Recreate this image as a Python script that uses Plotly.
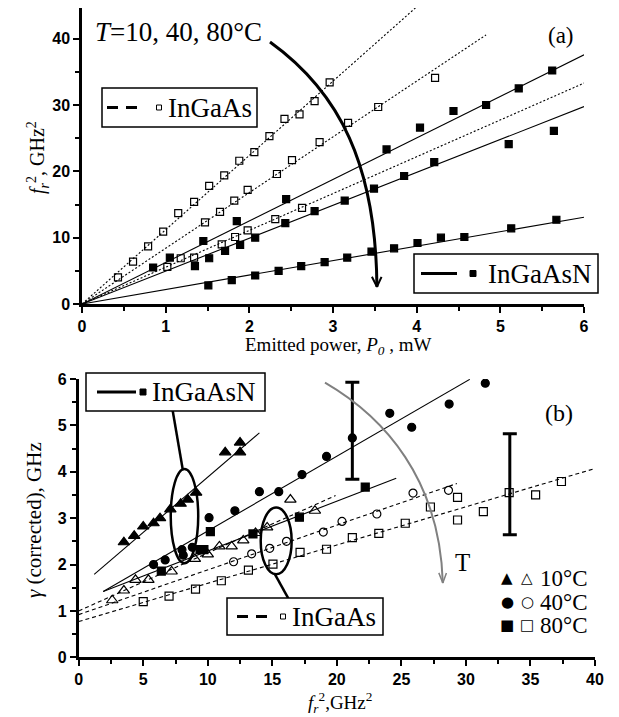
import numpy as np
import plotly.graph_objects as go

# ---------------- Panel (a): f_r^2 vs emitted power ----------------
a_ingaas_10_x = [0.43, 0.61, 0.79, 0.97, 1.15, 1.34, 1.52, 1.70, 1.88, 2.06, 2.24, 2.42, 2.60, 2.78, 2.96]
a_ingaas_10_y = [4.0, 6.4, 8.7, 10.9, 13.7, 15.4, 17.8, 19.4, 21.6, 22.9, 25.3, 27.9, 28.6, 30.6, 33.4]
a_ingaas_40_x = [1.47, 1.65, 1.82, 1.98, 2.33, 2.51, 2.84, 3.18, 3.54, 4.22]
a_ingaas_40_y = [12.3, 13.9, 15.6, 17.2, 19.6, 21.7, 24.4, 27.3, 29.7, 34.1]
a_ingaas_80_x = [1.02, 1.18, 1.34, 1.67, 1.83, 1.98, 2.31, 2.63]
a_ingaas_80_y = [5.6, 6.9, 7.0, 9.0, 10.1, 11.1, 12.8, 14.5]
a_ingaasn_10_x = [0.85, 1.05, 1.45, 1.85, 2.44, 3.64, 4.04, 4.44, 4.83, 5.22, 5.62]
a_ingaasn_10_y = [5.5, 7.0, 9.5, 12.5, 15.8, 23.3, 26.6, 29.1, 30.0, 32.5, 35.2]
a_ingaasn_40_x = [1.35, 1.52, 1.71, 1.89, 2.07, 2.43, 2.78, 3.14, 3.49, 3.85, 4.21, 5.10, 5.64]
a_ingaasn_40_y = [5.7, 6.9, 8.0, 8.9, 10.0, 12.2, 14.0, 15.6, 17.4, 19.3, 21.4, 24.1, 26.1]
a_ingaasn_80_x = [1.51, 1.79, 2.07, 2.35, 2.62, 2.90, 3.17, 3.46, 3.73, 4.01, 4.29, 4.57, 5.13, 5.67]
a_ingaasn_80_y = [2.8, 3.6, 4.3, 5.0, 5.7, 6.3, 7.0, 7.9, 8.4, 9.2, 10.0, 10.1, 11.4, 12.7]

# linear fits through origin (slope, x end)
a_fit_ingaas_slope = [11.2, 8.4, 5.55]
a_fit_ingaas_xend = [4.0, 4.83, 6.0]
a_fit_ingaasn_slope = [6.26, 4.96, 2.18]
a_fit_ingaasn_xend = [6.0, 6.0, 6.0]

# temperature arrow (a): cubic Bezier control points (data units)
a_arrow_x = [2.247, 3.084, 3.513, 3.525]
a_arrow_y = [39.5, 31.9, 20.9, 2.6]

# ---------------- Panel (b): gamma vs f_r^2 ----------------
b_n_10_x = [3.5, 4.3, 5.0, 5.8, 6.3, 7.1, 7.9, 8.45, 9.1, 11.35, 12.5, 12.5]
b_n_10_y = [2.48, 2.62, 2.82, 2.89, 3.0, 3.19, 3.31, 3.4, 3.55, 4.42, 4.63, 4.42]
b_n_40_x = [5.8, 6.7, 8.0, 8.1, 8.8, 10.1, 12.1, 14.0, 15.5, 17.3, 19.2, 21.2, 24.1, 25.8, 28.7, 31.5]
b_n_40_y = [2.0, 2.1, 2.32, 2.2, 2.37, 3.01, 3.16, 3.57, 3.57, 3.94, 4.33, 4.73, 5.26, 4.96, 5.46, 5.91]
b_n_80_x = [6.4, 9.4, 9.7, 10.2, 13.5, 17.1, 22.2]
b_n_80_y = [1.86, 2.32, 2.32, 2.71, 2.66, 3.02, 3.67]
b_ga_10_x = [2.6, 3.5, 4.4, 5.4, 7.2, 9.0, 10.0, 10.9, 11.85, 12.75, 13.7, 14.6, 16.4, 18.3]
b_ga_10_y = [1.23, 1.44, 1.67, 1.67, 1.85, 2.12, 2.22, 2.39, 2.39, 2.52, 2.68, 2.8, 3.4, 3.16]
b_ga_40_x = [12.0, 13.4, 14.8, 16.1, 18.95, 20.4, 23.1, 25.9, 28.65]
b_ga_40_y = [2.06, 2.23, 2.35, 2.5, 2.7, 2.93, 3.09, 3.54, 3.6]
b_ga_80_x = [5.0, 7.0, 9.05, 11.05, 13.15, 15.05, 17.15, 19.2, 21.2, 23.25, 25.3, 27.25, 29.35, 29.35, 31.35, 33.35, 35.4, 37.4]
b_ga_80_y = [1.2, 1.32, 1.47, 1.65, 1.88, 2.01, 2.26, 2.33, 2.58, 2.67, 2.89, 3.24, 3.45, 2.96, 3.14, 3.55, 3.5, 3.79]

# linear fits (intercept, slope, x start, x end)
b_fit_n_int = [1.50, 1.114, 1.216]
b_fit_n_slope = [0.2385, 0.161, 0.1075]
b_fit_n_x0 = [1.2, 1.9, 1.9]
b_fit_n_x1 = [14.0, 30.3, 24.6]
b_fit_ga_int = [1.0, 0.92, 0.77]
b_fit_ga_slope = [0.125, 0.0965, 0.0825]
b_fit_ga_x0 = [0.0, 0.0, 0.0]
b_fit_ga_x1 = [19.9, 29.3, 39.9]

# error bars
b_err_x = [21.2, 33.4]
b_err_lo = [3.84, 2.64]
b_err_hi = [5.93, 4.82]

# temperature arrow (b): cubic Bezier control points (data units)
b_arrow_x = [19.08, 23.72, 27.98, 28.21]
b_arrow_y = [5.92, 5.17, 3.83, 1.60]

W, H = 619, 717
OFF = 8  # page body margin of the html page


def PX(x):
    return (x - OFF) / W


def PY(y):
    return 1 - (y - OFF) / H


fig = go.Figure()


def pts(x, y, sym, size, xa, ya, lw=1.2):
    fig.add_trace(go.Scatter(x=x, y=y, mode="markers", xaxis=xa, yaxis=ya,
                             marker=dict(symbol=sym, size=size, color="black",
                                         line=dict(width=lw, color="black")),
                             showlegend=False, hoverinfo="skip"))


def line(x, y, xa, ya, dash="solid", width=1.1, color="black"):
    fig.add_trace(go.Scatter(x=x, y=y, mode="lines", xaxis=xa, yaxis=ya,
                             line=dict(color=color, width=width, dash=dash),
                             showlegend=False, hoverinfo="skip"))


def bezier(xs, ys, xref, yref, width, color):
    path = "M {},{} C {},{} {},{} {},{}".format(xs[0], ys[0], xs[1], ys[1], xs[2], ys[2], xs[3], ys[3])
    fig.add_shape(type="path", xref=xref, yref=yref, path=path,
                  line=dict(color=color, width=width))


# ---- panel (a) traces ----
for s, xe in zip(a_fit_ingaas_slope, a_fit_ingaas_xend):
    xx = np.array([0.0, xe])
    line(xx, s * xx, "x", "y", dash="2px,2px")
for s, xe in zip(a_fit_ingaasn_slope, a_fit_ingaasn_xend):
    xx = np.array([0.0, xe])
    line(xx, s * xx, "x", "y")

for x, y in [(a_ingaas_10_x, a_ingaas_10_y), (a_ingaas_40_x, a_ingaas_40_y), (a_ingaas_80_x, a_ingaas_80_y)]:
    pts(x, y, "square-open", 7, "x", "y")
for x, y in [(a_ingaasn_10_x, a_ingaasn_10_y), (a_ingaasn_40_x, a_ingaasn_40_y), (a_ingaasn_80_x, a_ingaasn_80_y)]:
    pts(x, y, "square", 7, "x", "y")

bezier(a_arrow_x, a_arrow_y, "x", "y", 3, "black")
tx, ty = a_arrow_x[-1], a_arrow_y[-1]
line([tx - 0.06, tx, tx + 0.055], [ty + 1.5, ty, ty + 1.5], "x", "y", width=2)

# ---- panel (b) traces ----
for b0, s, x0, x1 in zip(b_fit_n_int, b_fit_n_slope, b_fit_n_x0, b_fit_n_x1):
    xx = np.array([x0, x1])
    line(xx, b0 + s * xx, "x2", "y2")
for b0, s, x0, x1 in zip(b_fit_ga_int, b_fit_ga_slope, b_fit_ga_x0, b_fit_ga_x1):
    xx = np.array([x0, x1])
    line(xx, b0 + s * xx, "x2", "y2", dash="4px,3px")

pts(b_n_10_x, b_n_10_y, "triangle-up", 10, "x2", "y2")
pts(b_n_40_x, b_n_40_y, "circle", 8, "x2", "y2")
pts(b_n_80_x, b_n_80_y, "square", 8, "x2", "y2")
pts(b_ga_10_x, b_ga_10_y, "triangle-up-open", 10, "x2", "y2")
pts(b_ga_40_x, b_ga_40_y, "circle-open", 8, "x2", "y2")
pts(b_ga_80_x, b_ga_80_y, "square-open", 8, "x2", "y2")

err_c = [(lo + hi) / 2 for lo, hi in zip(b_err_lo, b_err_hi)]
err_h = [(hi - lo) / 2 for lo, hi in zip(b_err_lo, b_err_hi)]
fig.add_trace(go.Scatter(x=b_err_x, y=err_c, mode="markers", xaxis="x2", yaxis="y2",
                         marker=dict(size=1, color="rgba(0,0,0,0)"),
                         error_y=dict(type="data", array=err_h, visible=True, thickness=3,
                                      width=7, color="black"),
                         showlegend=False, hoverinfo="skip"))

bezier(b_arrow_x, b_arrow_y, "x2", "y2", 2, "#808080")
tx, ty = b_arrow_x[-1], b_arrow_y[-1]
line([tx - 0.31, tx, tx + 0.28], [ty + 0.22, ty, ty + 0.22], "x2", "y2", width=1.5, color="#808080")

# ellipses (b)
fig.add_shape(type="circle", xref="x2", yref="y2", x0=7.13, x1=9.26, y0=2.03, y1=4.06,
              line=dict(color="black", width=2.5))
fig.add_shape(type="circle", xref="x2", yref="y2", x0=14.1, x1=16.5, y0=1.79, y1=3.23,
              line=dict(color="black", width=2.5))


# ---- paper-space helpers ----
def pline(x0, y0, x1, y1, width=2.5, dash="solid", color="black"):
    fig.add_shape(type="line", xref="paper", yref="paper", x0=PX(x0), y0=PY(y0), x1=PX(x1), y1=PY(y1),
                  line=dict(color=color, width=width, dash=dash))


def prect(x0, y0, x1, y1, fill="white", lw=1.5):
    fig.add_shape(type="rect", xref="paper", yref="paper", x0=PX(x0), x1=PX(x1), y0=PY(y1), y1=PY(y0),
                  line=dict(color="black", width=lw), fillcolor=fill)


def txt(x, y, text, size, anchor="left", family="Liberation Serif", angle=0):
    fig.add_annotation(xref="paper", yref="paper", x=PX(x), y=PY(y), text=text, showarrow=False,
                       xanchor=anchor, yanchor="middle", textangle=angle,
                       font=dict(family=family, size=size, color="black"))


# connectors of ellipses
pline(182.7, 469.3, 172.7, 410.7)
pline(275, 574.3, 288.3, 598.3)

# legend box (a) InGaAs
prect(102, 88, 257, 127)
pline(107, 107.5, 138, 107.5, width=3, dash="11px,8px")
prect(156.5, 105, 161.5, 110, lw=1)
txt(166, 107.5, "InGaAs", 27)

# legend box (a) InGaAsN
prect(414, 254, 598, 293)
pline(421, 273.5, 457, 273.5, width=3)
prect(470, 270.5, 476, 276.5, fill="black", lw=1)
txt(486, 273.5, "InGaAsN", 27)

# legend box (b) InGaAsN
prect(86, 373, 265, 411)
pline(97, 392, 136, 392, width=3)
prect(140, 389, 146, 395, fill="black", lw=1)
txt(150, 392, "InGaAsN", 27)

# legend box (b) InGaAs
prect(227, 598, 383, 635)
pline(237, 616.5, 268, 616.5, width=3, dash="11px,8px")
prect(280.5, 614, 285.5, 619, lw=1)
txt(290, 616.5, "InGaAs", 27)

# temperature legend (b)
for yy, s_full, s_open, lab in [(578, "\u25B2", "\u25B3", "10°C"), (602, "\u25CF", "\u25CB", "40°C"),
                                (625, "\u25A0", "\u25A1", "80°C")]:
    txt(507, yy, s_full, 15, anchor="center", family="DejaVu Sans")
    txt(527, yy, s_open, 15, anchor="center", family="DejaVu Sans")
    txt(538, yy, lab, 23)

txt(93, 32, "<i>T</i>=10, 40, 80°C", 27)
txt(561, 35, "(a)", 23, anchor="center")
txt(559, 413, "(b)", 24, anchor="center")
txt(462, 562, "T", 25, anchor="center")

# axis titles
txt(338, 346, "Emitted power, <i>P<sub>0</sub></i> , mW", 19, anchor="center")
txt(38, 158, "<i>f<sub>r</sub></i><sup>2</sup>, GHz<sup>2</sup>", 20, anchor="center", angle=-90)
txt(340, 702, "<i>f<sub>r</sub></i><sup>2</sup>,GHz<sup>2</sup>", 19, anchor="center")
txt(34, 520, "<i>γ</i> (corrected), GHz", 21, anchor="center", angle=-90)

ax_common = dict(showline=True, linecolor="black", linewidth=2.5, ticks="outside", ticklen=6,
                 tickwidth=2, tickcolor="black", showgrid=False, zeroline=False, automargin=False,
                 tickfont=dict(family="Liberation Sans", size=16, color="black", weight="bold"))

# panel (a) y axis: visible page starts at y = 8 px, so top of axis there
a_y_top = (304 - OFF) / 6.633

fig.update_layout(
    width=W, height=H, margin=dict(l=0, r=0, t=0, b=0, autoexpand=False),
    paper_bgcolor="white", plot_bgcolor="white", showlegend=False,
    xaxis=dict(domain=[PX(82), PX(584)], range=[0, 6], dtick=1, anchor="y",
               minor=dict(ticks="outside", ticklen=4, tickwidth=2, tickcolor="black", dtick=0.5),
               **ax_common),
    yaxis=dict(domain=[PY(304), 1.0], range=[0, a_y_top], dtick=10, anchor="x",
               minor=dict(ticks="outside", ticklen=4, tickwidth=2, tickcolor="black", dtick=5),
               **ax_common),
    xaxis2=dict(domain=[PX(78.7), PX(595)], range=[0, 40], dtick=5, anchor="y2",
                minor=dict(ticks="outside", ticklen=4, tickwidth=2, tickcolor="black", dtick=2.5),
                **ax_common),
    yaxis2=dict(domain=[PY(657.3), PY(379)], range=[0, 6], dtick=1, anchor="x2",
                minor=dict(ticks="outside", ticklen=4, tickwidth=2, tickcolor="black", dtick=0.5),
                **ax_common),
)

fig.write_html("out.html")
